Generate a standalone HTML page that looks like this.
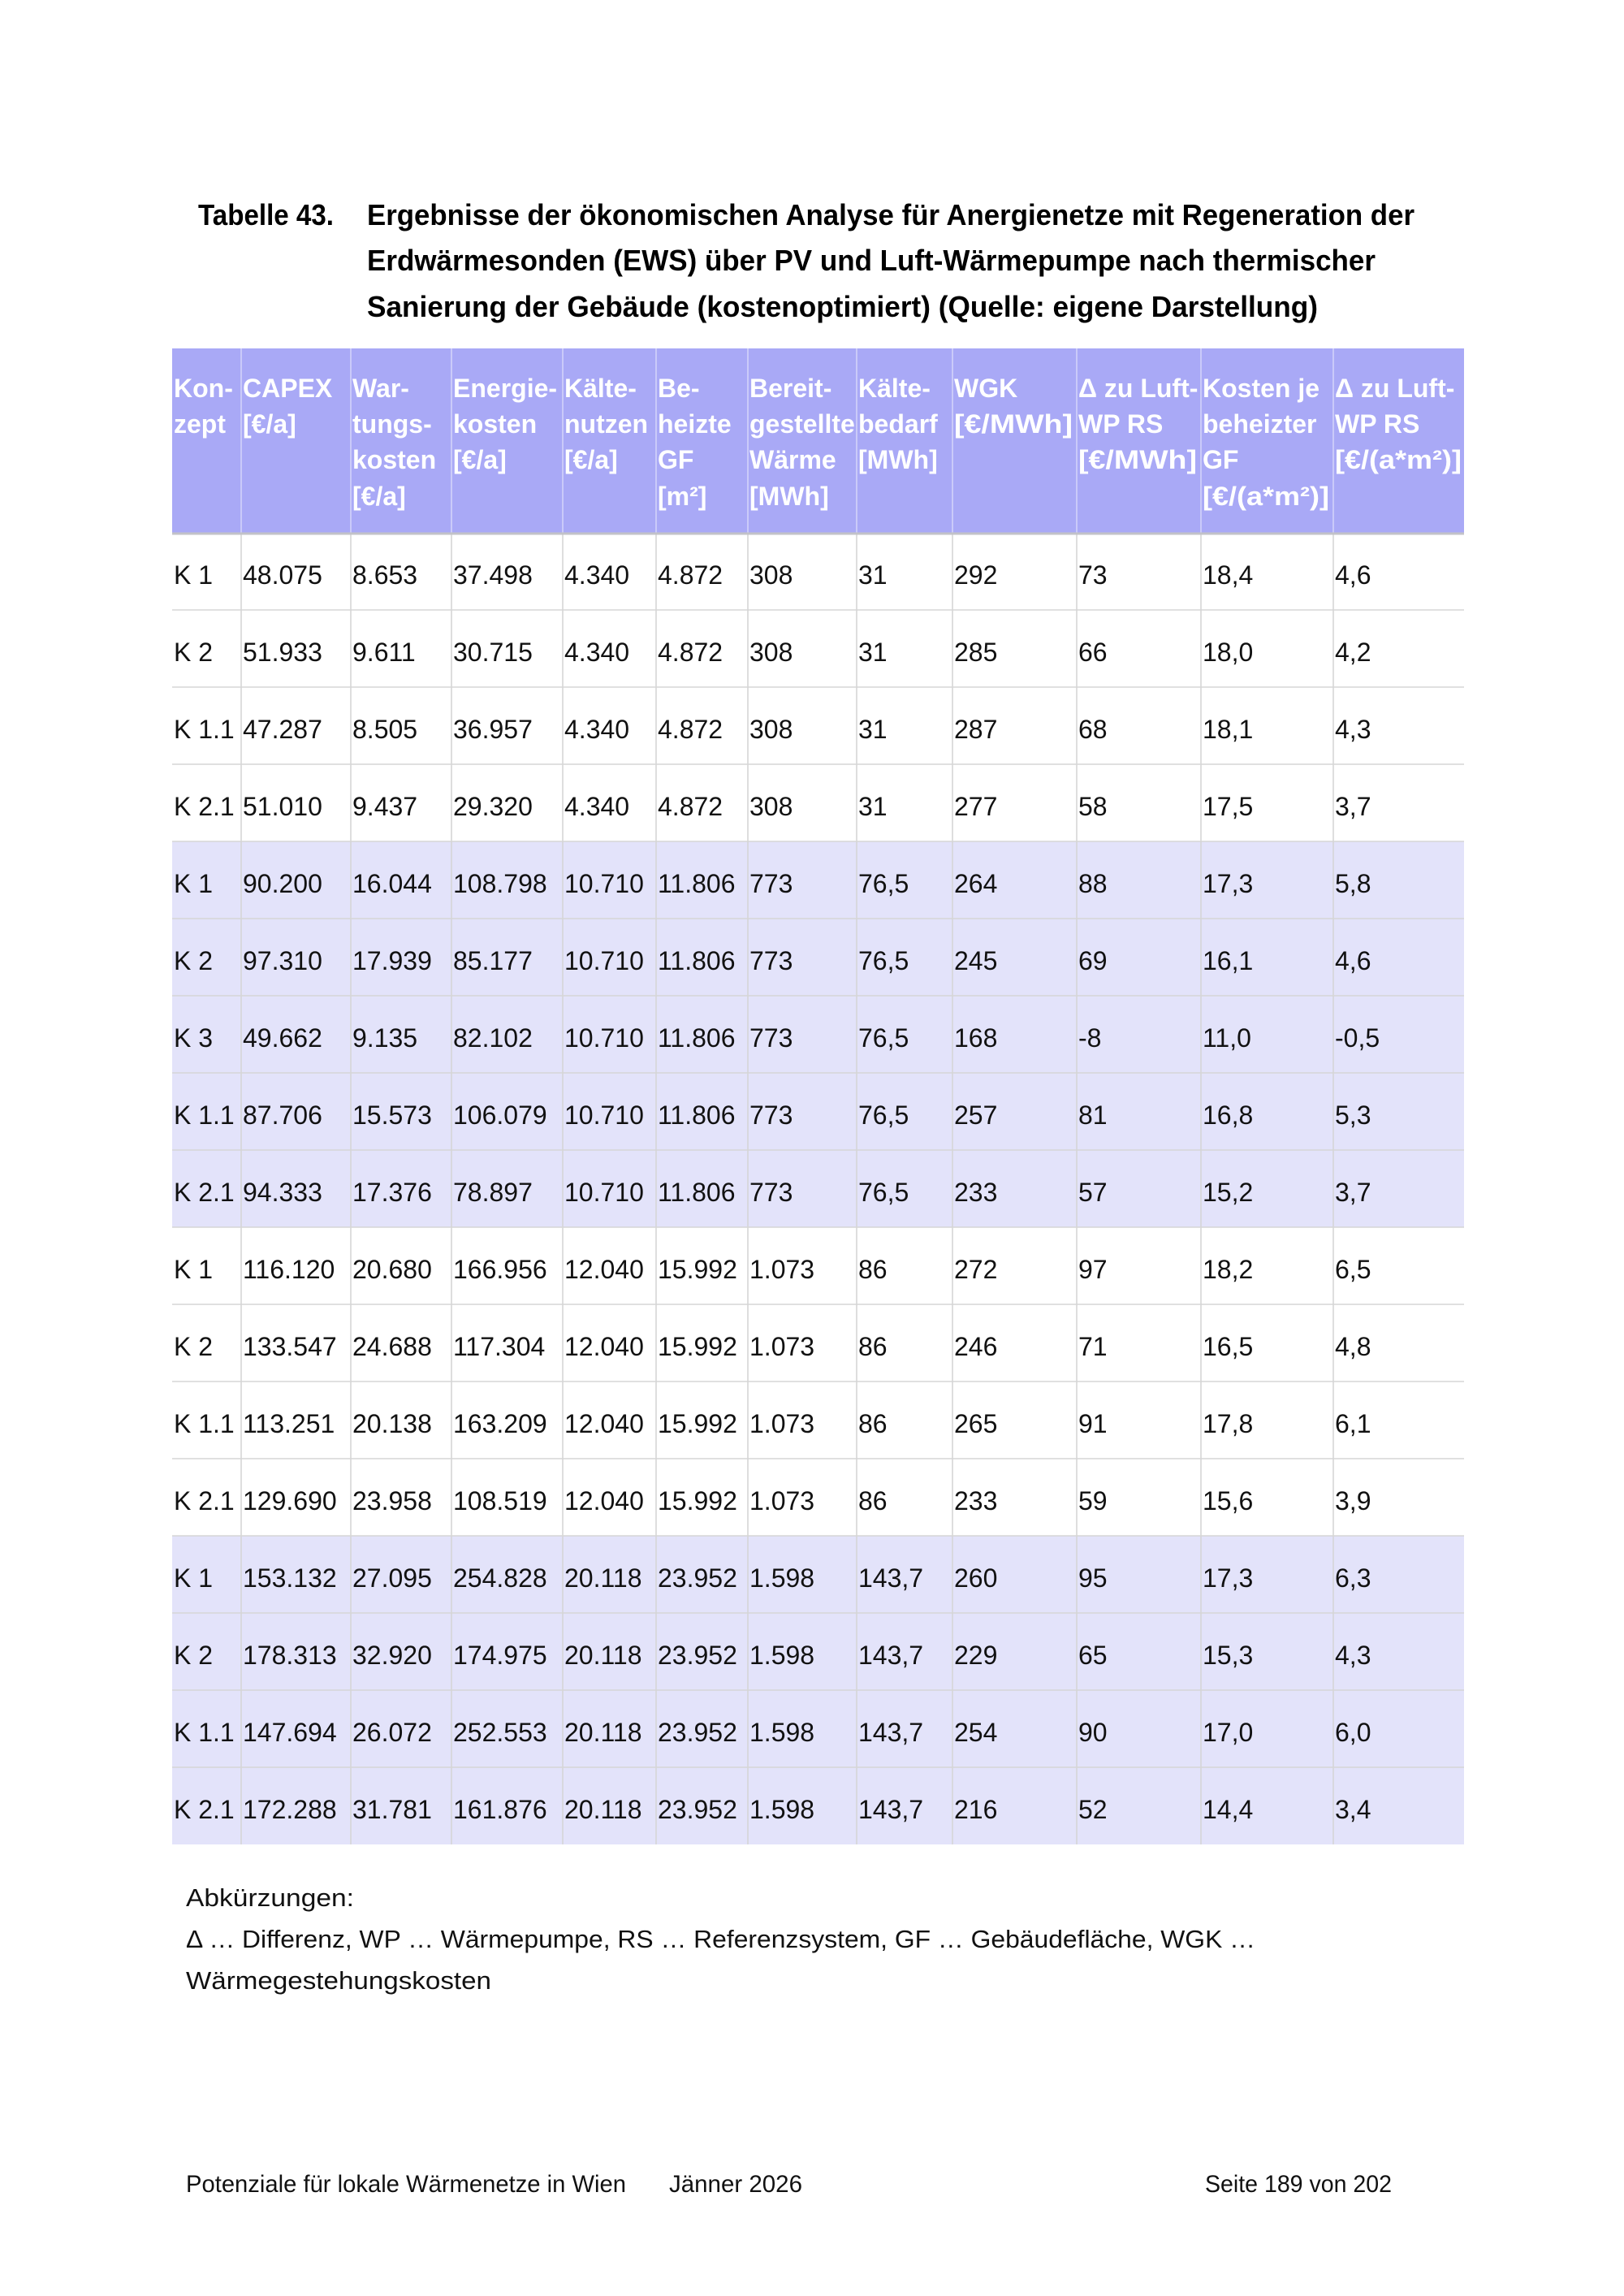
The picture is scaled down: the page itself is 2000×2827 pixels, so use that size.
<!DOCTYPE html>
<html><head><meta charset="utf-8"><style>
html,body{margin:0;padding:0;background:#fff;}
svg{display:block;}
.t{font-family:"Liberation Sans",sans-serif;font-weight:bold;font-size:36px;fill:#000;}
.h{font-family:"Liberation Sans",sans-serif;font-weight:bold;font-size:32px;fill:#fff;}
.d{font-family:"Liberation Sans",sans-serif;font-size:32px;fill:#111;}
.a{font-family:"Liberation Sans",sans-serif;font-size:31px;fill:#111;}
.f{font-family:"Liberation Sans",sans-serif;font-size:30px;fill:#111;}
</style></head><body>
<svg width="2000" height="2827" viewBox="0 0 2000 2827" xmlns="http://www.w3.org/2000/svg">
<rect x="0" y="0" width="2000" height="2827" fill="#fff"/>
<!-- Title -->
<text class="t" x="244" y="277" textLength="167" lengthAdjust="spacingAndGlyphs">Tabelle 43.</text>
<text class="t" x="452" y="277" textLength="1290" lengthAdjust="spacingAndGlyphs">Ergebnisse der ökonomischen Analyse für Anergienetze mit Regeneration der</text>
<text class="t" x="452" y="333" textLength="1242" lengthAdjust="spacingAndGlyphs">Erdwärmesonden (EWS) über PV und Luft-Wärmepumpe nach thermischer</text>
<text class="t" x="452" y="390" textLength="1171" lengthAdjust="spacingAndGlyphs">Sanierung der Gebäude (kostenoptimiert) (Quelle: eigene Darstellung)</text>

<!-- Header bg -->
<rect x="212" y="429" width="1591" height="227" fill="#a9a9f6"/>
<!-- shaded rows -->
<rect x="212" y="1036" width="1591" height="475" fill="#e3e3fa"/>
<rect x="212" y="1891" width="1591" height="380" fill="#e3e3fa"/>

<!-- header vertical lines -->
<g stroke="#d6d6fa" stroke-width="1.5">
<line x1="297" y1="429" x2="297" y2="656"/><line x1="432" y1="429" x2="432" y2="656"/>
<line x1="556" y1="429" x2="556" y2="656"/><line x1="693" y1="429" x2="693" y2="656"/>
<line x1="808" y1="429" x2="808" y2="656"/><line x1="921" y1="429" x2="921" y2="656"/>
<line x1="1055" y1="429" x2="1055" y2="656"/><line x1="1173" y1="429" x2="1173" y2="656"/>
<line x1="1326" y1="429" x2="1326" y2="656"/><line x1="1479" y1="429" x2="1479" y2="656"/>
<line x1="1642" y1="429" x2="1642" y2="656"/>
</g>
<!-- body vertical lines -->
<g stroke="#d4d4d4" stroke-width="1.5">
<line x1="297" y1="656" x2="297" y2="2271"/><line x1="432" y1="656" x2="432" y2="2271"/>
<line x1="556" y1="656" x2="556" y2="2271"/><line x1="693" y1="656" x2="693" y2="2271"/>
<line x1="808" y1="656" x2="808" y2="2271"/><line x1="921" y1="656" x2="921" y2="2271"/>
<line x1="1055" y1="656" x2="1055" y2="2271"/><line x1="1173" y1="656" x2="1173" y2="2271"/>
<line x1="1326" y1="656" x2="1326" y2="2271"/><line x1="1479" y1="656" x2="1479" y2="2271"/>
<line x1="1642" y1="656" x2="1642" y2="2271"/>
</g>
<!-- horizontal lines -->
<g stroke="#d6d6d6" stroke-width="1.5">
<line x1="212" y1="751" x2="1803" y2="751"/><line x1="212" y1="846" x2="1803" y2="846"/>
<line x1="212" y1="941" x2="1803" y2="941"/><line x1="212" y1="1036" x2="1803" y2="1036"/>
<line x1="212" y1="1131" x2="1803" y2="1131"/><line x1="212" y1="1226" x2="1803" y2="1226"/>
<line x1="212" y1="1321" x2="1803" y2="1321"/><line x1="212" y1="1416" x2="1803" y2="1416"/>
<line x1="212" y1="1511" x2="1803" y2="1511"/><line x1="212" y1="1606" x2="1803" y2="1606"/>
<line x1="212" y1="1701" x2="1803" y2="1701"/><line x1="212" y1="1796" x2="1803" y2="1796"/>
<line x1="212" y1="1891" x2="1803" y2="1891"/><line x1="212" y1="1986" x2="1803" y2="1986"/>
<line x1="212" y1="2081" x2="1803" y2="2081"/><line x1="212" y1="2176" x2="1803" y2="2176"/>
</g>
<line x1="212" y1="657" x2="1803" y2="657" stroke="#c2c2c8" stroke-width="3"/>

<!-- Header text -->
<text class="h" y="489"><tspan x="214">Kon-</tspan><tspan x="299">CAPEX</tspan><tspan x="434">War-</tspan><tspan x="558">Energie-</tspan><tspan x="695">Kälte-</tspan><tspan x="810">Be-</tspan><tspan x="923">Bereit-</tspan><tspan x="1057">Kälte-</tspan><tspan x="1175">WGK</tspan><tspan x="1328">Δ zu Luft-</tspan><tspan x="1481">Kosten je</tspan><tspan x="1644">Δ zu Luft-</tspan></text>
<text class="h" y="533"><tspan x="214">zept</tspan><tspan x="299">[€/a]</tspan><tspan x="434">tungs-</tspan><tspan x="558">kosten</tspan><tspan x="695">nutzen</tspan><tspan x="810">heizte</tspan><tspan x="923">gestellte</tspan><tspan x="1057">bedarf</tspan></text>
<text class="h" x="1175" y="533" textLength="146" lengthAdjust="spacingAndGlyphs">[€/MWh]</text>
<text class="h" y="533"><tspan x="1328">WP RS</tspan><tspan x="1481">beheizter</tspan><tspan x="1644">WP RS</tspan></text>
<text class="h" y="577"><tspan x="434">kosten</tspan><tspan x="558">[€/a]</tspan><tspan x="695">[€/a]</tspan><tspan x="810">GF</tspan><tspan x="923">Wärme</tspan><tspan x="1057">[MWh]</tspan><tspan x="1481">GF</tspan></text>
<text class="h" x="1328" y="577" textLength="146" lengthAdjust="spacingAndGlyphs">[€/MWh]</text>
<text class="h" x="1644" y="577" textLength="156" lengthAdjust="spacingAndGlyphs">[€/(a*m²)]</text>
<text class="h" y="622"><tspan x="434">[€/a]</tspan><tspan x="810">[m²]</tspan><tspan x="923">[MWh]</tspan></text>
<text class="h" x="1481" y="622" textLength="156" lengthAdjust="spacingAndGlyphs">[€/(a*m²)]</text>

<!-- Data -->
<g class="d">
<text y="719"><tspan x="214">K 1</tspan><tspan x="299">48.075</tspan><tspan x="434">8.653</tspan><tspan x="558">37.498</tspan><tspan x="695">4.340</tspan><tspan x="810">4.872</tspan><tspan x="923">308</tspan><tspan x="1057">31</tspan><tspan x="1175">292</tspan><tspan x="1328">73</tspan><tspan x="1481">18,4</tspan><tspan x="1644">4,6</tspan></text>
<text y="814"><tspan x="214">K 2</tspan><tspan x="299">51.933</tspan><tspan x="434">9.611</tspan><tspan x="558">30.715</tspan><tspan x="695">4.340</tspan><tspan x="810">4.872</tspan><tspan x="923">308</tspan><tspan x="1057">31</tspan><tspan x="1175">285</tspan><tspan x="1328">66</tspan><tspan x="1481">18,0</tspan><tspan x="1644">4,2</tspan></text>
<text y="909"><tspan x="214">K 1.1</tspan><tspan x="299">47.287</tspan><tspan x="434">8.505</tspan><tspan x="558">36.957</tspan><tspan x="695">4.340</tspan><tspan x="810">4.872</tspan><tspan x="923">308</tspan><tspan x="1057">31</tspan><tspan x="1175">287</tspan><tspan x="1328">68</tspan><tspan x="1481">18,1</tspan><tspan x="1644">4,3</tspan></text>
<text y="1004"><tspan x="214">K 2.1</tspan><tspan x="299">51.010</tspan><tspan x="434">9.437</tspan><tspan x="558">29.320</tspan><tspan x="695">4.340</tspan><tspan x="810">4.872</tspan><tspan x="923">308</tspan><tspan x="1057">31</tspan><tspan x="1175">277</tspan><tspan x="1328">58</tspan><tspan x="1481">17,5</tspan><tspan x="1644">3,7</tspan></text>
<text y="1099"><tspan x="214">K 1</tspan><tspan x="299">90.200</tspan><tspan x="434">16.044</tspan><tspan x="558">108.798</tspan><tspan x="695">10.710</tspan><tspan x="810">11.806</tspan><tspan x="923">773</tspan><tspan x="1057">76,5</tspan><tspan x="1175">264</tspan><tspan x="1328">88</tspan><tspan x="1481">17,3</tspan><tspan x="1644">5,8</tspan></text>
<text y="1194"><tspan x="214">K 2</tspan><tspan x="299">97.310</tspan><tspan x="434">17.939</tspan><tspan x="558">85.177</tspan><tspan x="695">10.710</tspan><tspan x="810">11.806</tspan><tspan x="923">773</tspan><tspan x="1057">76,5</tspan><tspan x="1175">245</tspan><tspan x="1328">69</tspan><tspan x="1481">16,1</tspan><tspan x="1644">4,6</tspan></text>
<text y="1289"><tspan x="214">K 3</tspan><tspan x="299">49.662</tspan><tspan x="434">9.135</tspan><tspan x="558">82.102</tspan><tspan x="695">10.710</tspan><tspan x="810">11.806</tspan><tspan x="923">773</tspan><tspan x="1057">76,5</tspan><tspan x="1175">168</tspan><tspan x="1328">-8</tspan><tspan x="1481">11,0</tspan><tspan x="1644">-0,5</tspan></text>
<text y="1384"><tspan x="214">K 1.1</tspan><tspan x="299">87.706</tspan><tspan x="434">15.573</tspan><tspan x="558">106.079</tspan><tspan x="695">10.710</tspan><tspan x="810">11.806</tspan><tspan x="923">773</tspan><tspan x="1057">76,5</tspan><tspan x="1175">257</tspan><tspan x="1328">81</tspan><tspan x="1481">16,8</tspan><tspan x="1644">5,3</tspan></text>
<text y="1479"><tspan x="214">K 2.1</tspan><tspan x="299">94.333</tspan><tspan x="434">17.376</tspan><tspan x="558">78.897</tspan><tspan x="695">10.710</tspan><tspan x="810">11.806</tspan><tspan x="923">773</tspan><tspan x="1057">76,5</tspan><tspan x="1175">233</tspan><tspan x="1328">57</tspan><tspan x="1481">15,2</tspan><tspan x="1644">3,7</tspan></text>
<text y="1574"><tspan x="214">K 1</tspan><tspan x="299">116.120</tspan><tspan x="434">20.680</tspan><tspan x="558">166.956</tspan><tspan x="695">12.040</tspan><tspan x="810">15.992</tspan><tspan x="923">1.073</tspan><tspan x="1057">86</tspan><tspan x="1175">272</tspan><tspan x="1328">97</tspan><tspan x="1481">18,2</tspan><tspan x="1644">6,5</tspan></text>
<text y="1669"><tspan x="214">K 2</tspan><tspan x="299">133.547</tspan><tspan x="434">24.688</tspan><tspan x="558">117.304</tspan><tspan x="695">12.040</tspan><tspan x="810">15.992</tspan><tspan x="923">1.073</tspan><tspan x="1057">86</tspan><tspan x="1175">246</tspan><tspan x="1328">71</tspan><tspan x="1481">16,5</tspan><tspan x="1644">4,8</tspan></text>
<text y="1764"><tspan x="214">K 1.1</tspan><tspan x="299">113.251</tspan><tspan x="434">20.138</tspan><tspan x="558">163.209</tspan><tspan x="695">12.040</tspan><tspan x="810">15.992</tspan><tspan x="923">1.073</tspan><tspan x="1057">86</tspan><tspan x="1175">265</tspan><tspan x="1328">91</tspan><tspan x="1481">17,8</tspan><tspan x="1644">6,1</tspan></text>
<text y="1859"><tspan x="214">K 2.1</tspan><tspan x="299">129.690</tspan><tspan x="434">23.958</tspan><tspan x="558">108.519</tspan><tspan x="695">12.040</tspan><tspan x="810">15.992</tspan><tspan x="923">1.073</tspan><tspan x="1057">86</tspan><tspan x="1175">233</tspan><tspan x="1328">59</tspan><tspan x="1481">15,6</tspan><tspan x="1644">3,9</tspan></text>
<text y="1954"><tspan x="214">K 1</tspan><tspan x="299">153.132</tspan><tspan x="434">27.095</tspan><tspan x="558">254.828</tspan><tspan x="695">20.118</tspan><tspan x="810">23.952</tspan><tspan x="923">1.598</tspan><tspan x="1057">143,7</tspan><tspan x="1175">260</tspan><tspan x="1328">95</tspan><tspan x="1481">17,3</tspan><tspan x="1644">6,3</tspan></text>
<text y="2049"><tspan x="214">K 2</tspan><tspan x="299">178.313</tspan><tspan x="434">32.920</tspan><tspan x="558">174.975</tspan><tspan x="695">20.118</tspan><tspan x="810">23.952</tspan><tspan x="923">1.598</tspan><tspan x="1057">143,7</tspan><tspan x="1175">229</tspan><tspan x="1328">65</tspan><tspan x="1481">15,3</tspan><tspan x="1644">4,3</tspan></text>
<text y="2144"><tspan x="214">K 1.1</tspan><tspan x="299">147.694</tspan><tspan x="434">26.072</tspan><tspan x="558">252.553</tspan><tspan x="695">20.118</tspan><tspan x="810">23.952</tspan><tspan x="923">1.598</tspan><tspan x="1057">143,7</tspan><tspan x="1175">254</tspan><tspan x="1328">90</tspan><tspan x="1481">17,0</tspan><tspan x="1644">6,0</tspan></text>
<text y="2239"><tspan x="214">K 2.1</tspan><tspan x="299">172.288</tspan><tspan x="434">31.781</tspan><tspan x="558">161.876</tspan><tspan x="695">20.118</tspan><tspan x="810">23.952</tspan><tspan x="923">1.598</tspan><tspan x="1057">143,7</tspan><tspan x="1175">216</tspan><tspan x="1328">52</tspan><tspan x="1481">14,4</tspan><tspan x="1644">3,4</tspan></text>
</g>

<!-- Abbreviations -->
<text class="a" x="229" y="2347" textLength="207" lengthAdjust="spacingAndGlyphs">Abkürzungen:</text>
<text class="a" x="229" y="2398" textLength="1317" lengthAdjust="spacingAndGlyphs">Δ … Differenz, WP … Wärmepumpe, RS … Referenzsystem, GF … Gebäudefläche, WGK …</text>
<text class="a" x="229" y="2449" textLength="376" lengthAdjust="spacingAndGlyphs">Wärmegestehungskosten</text>

<!-- Footer -->
<text class="f" x="229" y="2699" textLength="542" lengthAdjust="spacingAndGlyphs">Potenziale für lokale Wärmenetze in Wien</text>
<text class="f" x="824" y="2699" textLength="164" lengthAdjust="spacingAndGlyphs">Jänner 2026</text>
<text class="f" x="1484" y="2699" textLength="230" lengthAdjust="spacingAndGlyphs">Seite 189 von 202</text>
</svg>
</body></html>
